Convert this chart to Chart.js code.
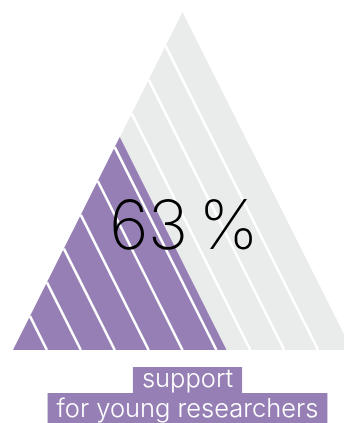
<!DOCTYPE html>
<html lang="en">
<head>
    <meta charset="UTF-8">
    <title>63 % support for young researchers</title>
    <script src="https://cdn.jsdelivr.net/npm/chart.js"></script>
    <style>
        body {
            margin: 0;
            padding: 0;
            background: #fff;
        }
        #chart {
            display: block;
        }
    </style>
</head>
<body>
    <canvas id="chart" width="344" height="423"></canvas>

    <script>
        // data
        const share = [63];                       // percent
        const labelLines = ['support', 'for young researchers'];
        const stripeLevels = [0.1, 0.2, 0.3, 0.4, 0.5, 0.6, 0.7, 0.8, 0.9];

        const purple = '#957fb5';
        const grey = '#eaeceb';

        // unit triangle: left (0,0), apex (0.5,1), right (1,0)
        const f = share[0] / 100;
        const outer = [{x: 0, y: 0}, {x: 0.5, y: 1}, {x: 1, y: 0}];
        const inner = outer.map(p => ({x: p.x * f, y: p.y * f}));

        // stripes run from the left edge, parallel to the right edge, down to the base
        const stripes = stripeLevels.map(h => ({
            data: [{x: h / 2, y: h}, {x: h, y: 0}],
            borderColor: '#fff',
            borderWidth: 2.6,
            fill: false,
            pointRadius: 0
        }));

        const labelPlugin = {
            id: 'labels',
            afterDraw(chart) {
                const ctx = chart.ctx;
                const xs = chart.scales.x, ys = chart.scales.y;
                const cx = xs.getPixelForValue(0.5);

                ctx.save();
                ctx.fillStyle = '#000';
                ctx.textAlign = 'center';
                ctx.textBaseline = 'alphabetic';
                ctx.font = '200 68px Inter';
                ctx.letterSpacing = '-1px';
                ctx.fillText(share[0] + '\u2009%', cx + 1, ys.getPixelForValue(0.3));
                ctx.letterSpacing = '0px';

                // label boxes under the triangle
                ctx.font = '300 25.5px Inter';
                const base = [387, 417];
                const cxl = cx + 5;
                labelLines.forEach((t, i) => {
                    const w = ctx.measureText(t).width;
                    ctx.fillStyle = purple;
                    const top = i === 0 ? 367 : 393;
                    const bottom = i === 0 ? 394 : 430;
                    ctx.fillRect(cxl - w / 2 - 9, top, w + 18, bottom - top);
                });
                labelLines.forEach((t, i) => {
                    ctx.fillStyle = '#fff';
                    ctx.fillText(t, cxl, base[i]);
                });
                ctx.restore();
            }
        };

        new Chart(document.getElementById('chart'), {
            type: 'line',
            data: {
                datasets: [
                    ...stripes,
                    {data: inner, backgroundColor: purple, borderWidth: 0, fill: 'origin', pointRadius: 0},
                    {data: outer, backgroundColor: grey, borderWidth: 0, fill: 'origin', pointRadius: 0}
                ]
            },
            options: {
                responsive: false,
                animation: false,
                events: [],
                layout: {padding: 0},
                plugins: {
                    legend: {display: false},
                    tooltip: {enabled: false}
                },
                scales: {
                    x: {type: 'linear', display: false, min: -13 / 339, max: 331 / 339},
                    y: {type: 'linear', display: false, min: -73 / 338, max: 350 / 338}
                }
            },
            plugins: [labelPlugin]
        });
    </script>
</body>
</html>
